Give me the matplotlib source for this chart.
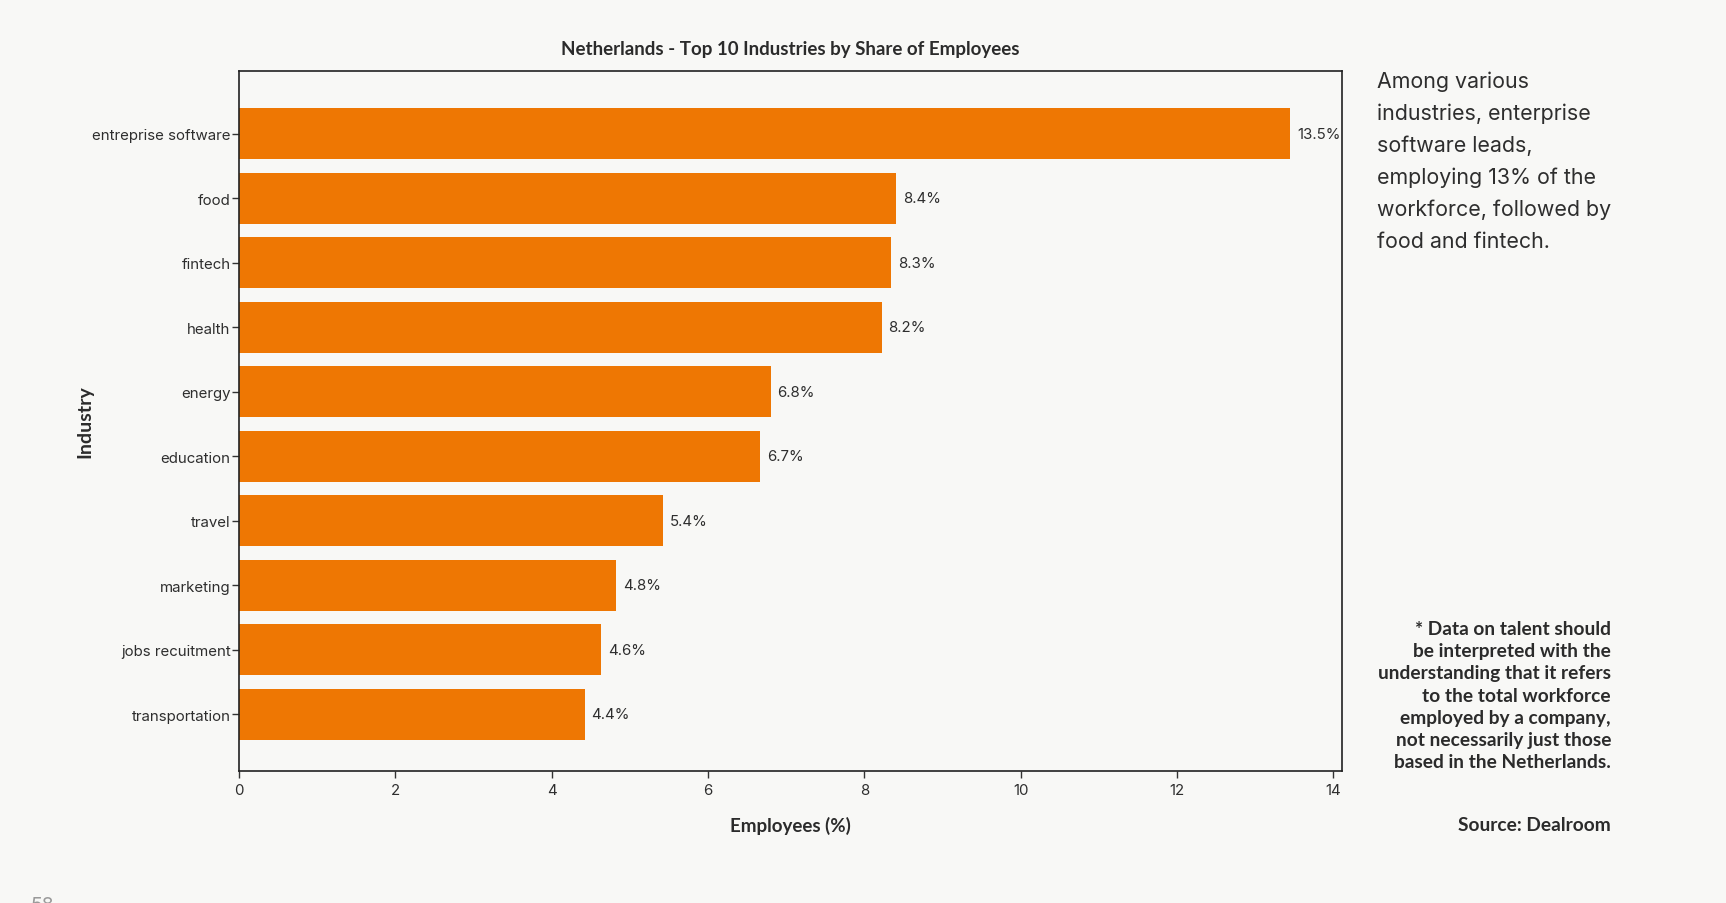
import matplotlib.pyplot as plt

# data
industries = ['entreprise software', 'food', 'fintech', 'health', 'energy',
              'education', 'travel', 'marketing', 'jobs recuitment', 'transportation']
share = [13.45, 8.4, 8.34, 8.22, 6.8, 6.67, 5.42, 4.82, 4.63, 4.42]
share_labels = ['13.5%', '8.4%', '8.3%', '8.2%', '6.8%', '6.7%', '5.4%', '4.8%', '4.6%', '4.4%']
xticks = [0, 2, 4, 6, 8, 10, 12, 14]

bg = '#f8f8f6'
bar_color = '#ee7703'
ink = '#2b2b2b'
soft = '#2e2e2e'

fig = plt.figure(figsize=(17.26, 9.04), dpi=100, facecolor=bg)
ax = fig.add_axes([239 / 1726, 1 - 772 / 904, (1342 - 239) / 1726, (772 - 72) / 904])
ax.set_facecolor(bg)

pos = list(range(len(industries)))
ax.barh(pos, share, height=0.79, color=bar_color)
for p, v, lab in zip(pos, share, share_labels):
    ax.text(v + 0.09, p, lab, va='center', ha='left', fontsize=10.8,
            family='Inter', color=soft)

ax.set_xlim(0, 14.11)
ax.set_ylim(9.88, -0.97)
ax.set_yticks(pos)
ax.set_yticklabels(industries, family='Inter', fontsize=10.8, color=soft)
ax.set_xticks(xticks)
ax.set_xticklabels([str(t) for t in xticks], family='Inter', fontsize=10.8, color=soft)
ax.tick_params(length=5, width=1, color='#333333')
ax.tick_params(axis='y', pad=1)
for s in ax.spines.values():
    s.set_color('#222222')
    s.set_linewidth(1.2)

ax.set_title('Netherlands - Top 10 Industries by Share of Employees', family='Lato',
             fontweight='bold', fontsize=13.5, color=ink, pad=12)
ax.set_xlabel('Employees (%)', family='Lato', fontweight='bold', fontsize=13.5,
              color=ink, labelpad=14)
ax.set_ylabel('Industry', family='Lato', fontweight='bold', fontsize=14,
              color=ink, labelpad=-1)

fig.text(1377 / 1726, 1 - 71 / 904,
         'Among various\nindustries, enterprise\nsoftware leads,\nemploying 13% of the\n'
         'workforce, followed by\nfood and fintech.',
         family='Inter', fontsize=15.4, color=soft, va='top',
         ha='left', linespacing=1.71)

fig.text(1611 / 1726, 1 - 621 / 904,
         '* Data on talent should\nbe interpreted with the\nunderstanding that it refers\n'
         'to the total workforce\nemployed by a company,\nnot necessarily just those\n'
         'based in the Netherlands.',
         family='Lato', fontweight='bold', fontsize=13.8, color=ink, va='top',
         ha='right', multialignment='right', linespacing=1.37)

fig.text(1611 / 1726, 1 - 826 / 904, 'Source: Dealroom', family='Lato',
         fontweight='bold', fontsize=13.8, color=ink, va='center', ha='right')

fig.text(30 / 1726, 1 - 897 / 904, '58', family='Inter', fontsize=14,
         color='#9a9a9a', va='top', ha='left')

fig.savefig('out.png', dpi=100, facecolor=bg)
